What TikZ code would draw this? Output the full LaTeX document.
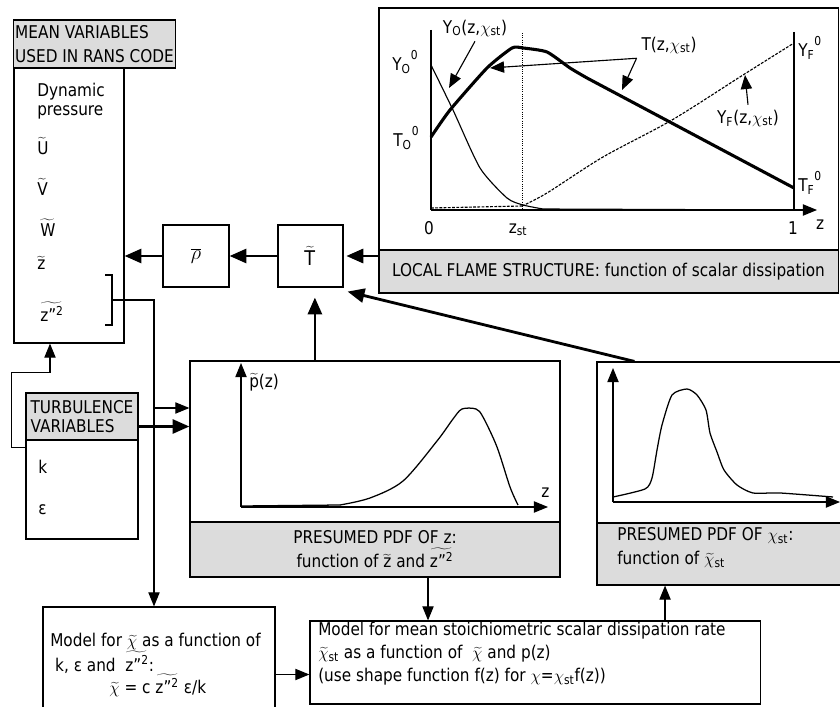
\documentclass[tikz,border=0pt]{standalone}
\usepackage{fontspec}
\setmainfont{DejaVu Sans}[FakeStretch=0.87]
\usetikzlibrary{arrows.meta,calc}
\definecolor{boxgray}{HTML}{DCDCDC}
\newcommand{\wt}[1]{\ensuremath{\widetilde{\mbox{#1}}}}
\newcommand{\zvar}{\wt{z"\textsuperscript{2}}}
\newcommand{\chist}{$\chi$\textsubscript{st}}
\newcommand{\chitil}{$\widetilde{\chi}$}

\begin{document}
\begin{tikzpicture}[x=0.025cm,y=-0.025cm,
    font=\fontsize{12.5}{17}\selectfont,
    panel/.style={draw,line width=0.8pt,fill=white,inner sep=1pt},
    hdr/.style={panel,fill=boxgray},
    lbl/.style={anchor=west,inner sep=0pt},
    para/.style={anchor=north west,align=left,inner sep=0pt},
    flow/.style={line width=2pt,-{Triangle[length=12pt,width=10pt]}},
    feed/.style={line width=0.8pt,-{Triangle[length=10pt,width=8pt]}}
]
\useasboundingbox (0,0) rectangle (840,707);

% mean variables
\node[panel,minimum width=2.75cm,minimum height=6.875cm] (meanbody) at (69,205.5) {};
\node[hdr,minimum width=4.025cm,minimum height=1.2cm,align=left] (meanhdr) at (94.5,44) {MEAN VARIABLES\\USED IN RANS CODE};
\node[lbl] (dyn)  at (37,92)  {Dynamic};
\node[lbl] (pres) at (37,112) {pressure};
\node[lbl] (uvar) at (37,146) {\wt{U}};
\node[lbl] (vvar) at (37,187) {\wt{V}};
\node[lbl] (wvar) at (40,228) {\wt{W}};
\node[lbl] (zvar) at (37,263) {\wt{z}};
\node[lbl] (zzvar) at (40,312) {\zvar};
\draw[line width=0.8pt] (105,275) -- (112,275) -- (112,325) -- (105,325);
\coordinate (brk) at (112,300);
\coordinate (drop) at (154,300);
\coordinate (split) at (154,408);

% density and temperature
\node[panel,minimum width=1.65cm,minimum height=1.55cm] (rho) at (196,256) {\Large$\overline{\rho}$};
\node[panel,minimum width=1.625cm,minimum height=1.55cm] (T) at (310.5,256) {\Large$\widetilde{\mathrm{T}}$};

% local flame structure
\node[panel,minimum width=11.475cm,minimum height=6.05cm] (flame) at (608.5,129) {};
\node[hdr,minimum width=11.475cm,minimum height=1.075cm] (flamecap) at (608.5,271.5) {LOCAL FLAME STRUCTURE: function of scalar dissipation};
\draw[line width=0.8pt] (431,30) -- (431,210);
\draw[line width=0.8pt] (794,32) -- (794,210);
\draw[feed] (431,210) -- (817,210);
\draw[densely dotted,line width=0.6pt] (522,33) -- (522,210);
\draw[line width=0.8pt] plot[smooth,tension=0.4] coordinates {(431,65) (453,110) (480,168) (507,198) (523,205) (543,209)} -- (794,210);
\draw[dash pattern=on 2pt off 1pt,line width=0.8pt] (431,208) -- (522,206) plot[smooth,tension=0.5] coordinates {(522,206) (547,193) (603,157) (672,120) (743,75) (794,43)};
\draw[line width=2.2pt,line join=round] plot[smooth,tension=0.35] coordinates {(431,137) (450,110) (487,68) (512,48) (523,48) (547,52) (570,68) (587,78)} -- (794,188);
\node[lbl] (yo0) at (392,62)  {Y\textsubscript{O}\textsuperscript{0}};
\node[lbl] (to0) at (393,138) {T\textsubscript{O}\textsuperscript{0}};
\node[lbl] (yf0) at (798,48)  {Y\textsubscript{F}\textsuperscript{0}};
\node[lbl] (tf0) at (798,183) {T\textsubscript{F}\textsuperscript{0}};
\node (zero) at (429,228) {0};
\node (zst)  at (518,230) {z\textsubscript{st}};
\node (one)  at (793,228) {1};
\node (zax)  at (820,225) {z};
\node (yolab) at (475,28)  {Y\textsubscript{O}(z,\chist)};
\node (tlab)  at (669,45)  {T(z,\chist)};
\node (yflab) at (748,118) {Y\textsubscript{F}(z,\chist)};
\coordinate (yoon) at (449,88);
\coordinate (ton1) at (490,68);
\coordinate (ton2) at (622,90);
\coordinate (yfon) at (745,75);
\draw[feed] (yolab.south) -- (yoon);
\draw[feed] (tlab.south west) -- (ton1);
\draw[feed] (tlab.south west) -- (ton2);
\draw[feed] (yflab.north) -- (yfon);

% turbulence variables
\node[panel,minimum width=2.8cm,minimum height=2.475cm] (turbbody) at (82,489.5) {};
\node[hdr,minimum width=2.8cm,minimum height=1.175cm,align=left] (turbhdr) at (82,416.5) {TURBULENCE\\[-4pt]VARIABLES};
\node[lbl] (kvar) at (38,467) {k};
\node[lbl] (epsvar) at (38,510) {ε};

% presumed pdf of z
\node[panel,minimum width=9.25cm,minimum height=4.025cm] (pdfz) at (375,441.5) {};
\node[hdr,minimum width=9.25cm,minimum height=1.375cm,align=center] (pdfzcap) at (375,549.5) {PRESUMED PDF OF z:\\function of \wt{z} and \zvar};
\draw[feed] (241,507) -- (241,363);
\draw[feed] (241,507) -- (548,507);
\draw[line width=0.9pt] (241,506) -- (340,505);
\draw[line width=0.9pt] plot[smooth,tension=0.5] coordinates {(340,505) (370,498) (403,481) (437,441) (453,419) (462,409) (476,409) (483,417) (497,447) (510,487) (518,505)};
\node[lbl] (pzlab) at (249,382) {\wt{p}(z)};
\node[lbl] (zlab) at (541,493) {z};

% presumed pdf of chi
\node[panel,minimum width=6.325cm,minimum height=4.025cm] (pdfchi) at (723.5,442.5) {};
\node[hdr,minimum width=6.325cm,minimum height=1.55cm] (pdfchicap) at (723.5,554) {};
\node[lbl,align=left] (chicaptext) at (617,548) {PRESUMED PDF OF \chist:\\function of \chitil\textsubscript{st}};
\draw[feed] (613,502) -- (613,368);
\draw[feed] (613,502) -- (840,502);
\draw[line width=0.9pt] plot[smooth,tension=0.4] coordinates {(613,497) (645,489) (652,478) (657,450) (662,425) (672,395) (687,389) (697,395) (706,410) (710,433) (717,452) (724,470) (737,485) (753,493) (780,493) (833,497)};

% models
\node[panel,minimum width=5.8cm,minimum height=2.825cm] (model1) at (159,663.5) {};
\node[para,font=\fontsize{12.5}{16}\selectfont] (m1text) at (50,633) {Model for \chitil\ as a function of\\\hspace{3.5pt}k, ε and \ \zvar:\\\hspace{42pt}\chitil\ = c \zvar\ ε/k};
\node[panel,minimum width=11.25cm,minimum height=2.075cm] (model2) at (535,662.5) {};
\node[para,font=\fontsize{12.5}{16.3}\selectfont] (m2text) at (318,622) {Model for mean stoichiometric scalar dissipation rate\\\chitil\textsubscript{st} as a function of \ \chitil\ and p(z)\\(use shape function f(z) for $\chi$=\chist f(z))};

% connectors
\draw[flow] (rho.west) -- (rho.west -| meanbody.east);
\draw[flow] (T.west) -- (rho.east);
\draw[flow] (flamecap.west |- T.east) -- ([xshift=0.07cm]T.east);
\coordinate (tin) at ([xshift=0.11cm,yshift=-0.25cm]T.south);
\draw[flow] (tin |- pdfz.north) -- (tin);
\coordinate (chiout) at ([xshift=0.95cm]pdfchi.north west);
\draw[flow] (chiout) -- ([xshift=0.1cm,yshift=-0.1cm]T.south east);
\coordinate (turbout) at ([yshift=-0.25cm]turbhdr.east);
\draw[flow] (turbout) -- (turbout -| pdfz.west);
\draw[feed] (brk) -- (drop) -- (drop |- model1.north);
\draw[feed] (split) -- (split -| pdfz.west);
\draw[feed] ([yshift=-0.2cm]turbbody.north west) -- ++(-14,0) -- ++(0,-75) -| ([xshift=-0.475cm]meanbody.south);
\coordinate (pdfzdown) at ([xshift=1.325cm]pdfzcap.south);
\draw[feed] (pdfzdown) -- (pdfzdown |- model2.north);
\coordinate (chiup) at ([xshift=3.25cm]model2.north);
\draw[feed] (chiup) -- (chiup |- pdfchicap.south);
\coordinate (m2in) at ([yshift=-0.3cm]model2.west);
\draw[feed] (m2in -| model1.east) -- (m2in);
\end{tikzpicture}
\end{document}
